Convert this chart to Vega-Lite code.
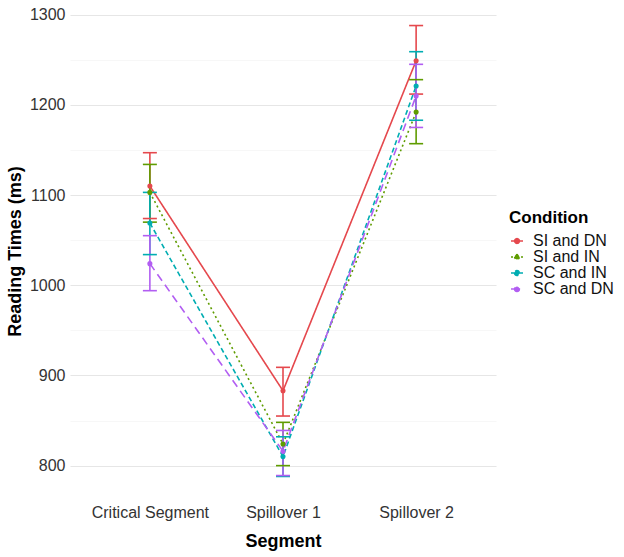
{
  "$schema": "https://vega.github.io/schema/vega-lite/v6.json",
  "autosize": "none",
  "padding": {"left": 70, "top": 3, "right": 128, "bottom": 58},
  "width": 426,
  "height": 496,
  "data": {
    "values": [
      {"segment": "Critical Segment", "condition": "SI and DN", "rt": 1110, "lo": 1074, "hi": 1147},
      {"segment": "Critical Segment", "condition": "SI and IN", "rt": 1103, "lo": 1070, "hi": 1134},
      {"segment": "Critical Segment", "condition": "SC and IN", "rt": 1069, "lo": 1034, "hi": 1103},
      {"segment": "Critical Segment", "condition": "SC and DN", "rt": 1024, "lo": 994, "hi": 1055},
      {"segment": "Spillover 1", "condition": "SI and DN", "rt": 883, "lo": 855, "hi": 909},
      {"segment": "Spillover 1", "condition": "SI and IN", "rt": 824, "lo": 800, "hi": 848},
      {"segment": "Spillover 1", "condition": "SC and IN", "rt": 810, "lo": 788, "hi": 832},
      {"segment": "Spillover 1", "condition": "SC and DN", "rt": 816, "lo": 789, "hi": 839},
      {"segment": "Spillover 2", "condition": "SI and DN", "rt": 1249, "lo": 1212, "hi": 1288},
      {"segment": "Spillover 2", "condition": "SI and IN", "rt": 1192, "lo": 1157, "hi": 1228},
      {"segment": "Spillover 2", "condition": "SC and IN", "rt": 1221, "lo": 1183, "hi": 1259},
      {"segment": "Spillover 2", "condition": "SC and DN", "rt": 1210, "lo": 1175, "hi": 1245}
    ]
  },
  "encoding": {
    "x": {
      "field": "segment",
      "type": "nominal",
      "scale": {"type": "point", "padding": 0.6},
      "axis": {
        "title": "Segment",
        "labelAngle": 0,
        "labelPadding": 5,
        "titlePadding": 12,
        "grid": false,
        "ticks": false,
        "domain": false
      }
    },
    "color": {
      "field": "condition",
      "type": "nominal",
      "scale": {
        "domain": ["SI and DN", "SI and IN", "SC and IN", "SC and DN"],
        "range": ["#E5484D", "#5F9C00", "#00ADB2", "#B25EF2"]
      },
      "legend": {
        "title": "Condition",
        "orient": "none",
        "legendX": 439,
        "legendY": 207,
        "symbolType": "M-1,0H1M-0.4,0a0.4,0.4 0 1,0 0.8,0a0.4,0.4 0 1,0 -0.8,0",
        "symbolSize": 144,
        "symbolStrokeWidth": 1.5,
        "symbolDash": [1, 0],
        "symbolOpacity": 1,
        "rowPadding": 0,
        "labelOffset": 8
      }
    }
  },
  "layer": [
    {
      "mark": {"type": "line", "strokeWidth": 1.6},
      "encoding": {
        "y": {
          "field": "rt",
          "type": "quantitative",
          "scale": {"domain": [763, 1313], "nice": false, "zero": false},
          "axis": {
            "title": "Reading Times (ms)",
            "values": [800, 850, 900, 950, 1000, 1050, 1100, 1150, 1200, 1250, 1300],
            "labelExpr": "datum.value % 100 === 0 ? datum.label : ''",
            "format": "d",
            "ticks": false,
            "domain": false,
            "labelPadding": 5,
            "titlePadding": 5,
            "gridColor": {"condition": {"test": "datum.value % 100 === 0", "value": "#E6E6E6"}, "value": "#F2F2F2"},
            "gridWidth": {"condition": {"test": "datum.value % 100 === 0", "value": 1.1}, "value": 0.6}
          }
        },
        "strokeDash": {
          "field": "condition",
          "type": "nominal",
          "scale": {
            "domain": ["SI and DN", "SI and IN", "SC and IN", "SC and DN"],
            "range": [[1, 0], [2, 3], [5, 3], [8, 5]]
          },
          "legend": null
        }
      }
    },
    {
      "mark": {"type": "rule", "strokeWidth": 1.6},
      "encoding": {
        "y": {"field": "lo", "type": "quantitative"},
        "y2": {"field": "hi"}
      }
    },
    {
      "mark": {"type": "tick", "thickness": 1.6, "size": 14, "opacity": 1, "orient": "horizontal"},
      "encoding": {"y": {"field": "lo", "type": "quantitative"}}
    },
    {
      "mark": {"type": "tick", "thickness": 1.6, "size": 14, "opacity": 1, "orient": "horizontal"},
      "encoding": {"y": {"field": "hi", "type": "quantitative"}}
    },
    {
      "mark": {"type": "point", "filled": true, "opacity": 1, "size": 26},
      "encoding": {"y": {"field": "rt", "type": "quantitative"}}
    }
  ],
  "config": {
    "font": "Liberation Sans",
    "view": {"stroke": null},
    "axis": {
      "labelFont": "Liberation Sans",
      "labelFontSize": 16,
      "labelColor": "#333333",
      "titleFont": "Liberation Sans",
      "titleFontSize": 18,
      "titleFontWeight": "bold",
      "titleColor": "#000000"
    },
    "legend": {
      "labelFont": "Liberation Sans",
      "labelFontSize": 16,
      "labelColor": "#111111",
      "titleFont": "Liberation Sans",
      "titleFontSize": 17,
      "titleFontWeight": "bold",
      "titleColor": "#000000",
      "titlePadding": 6
    }
  }
}
